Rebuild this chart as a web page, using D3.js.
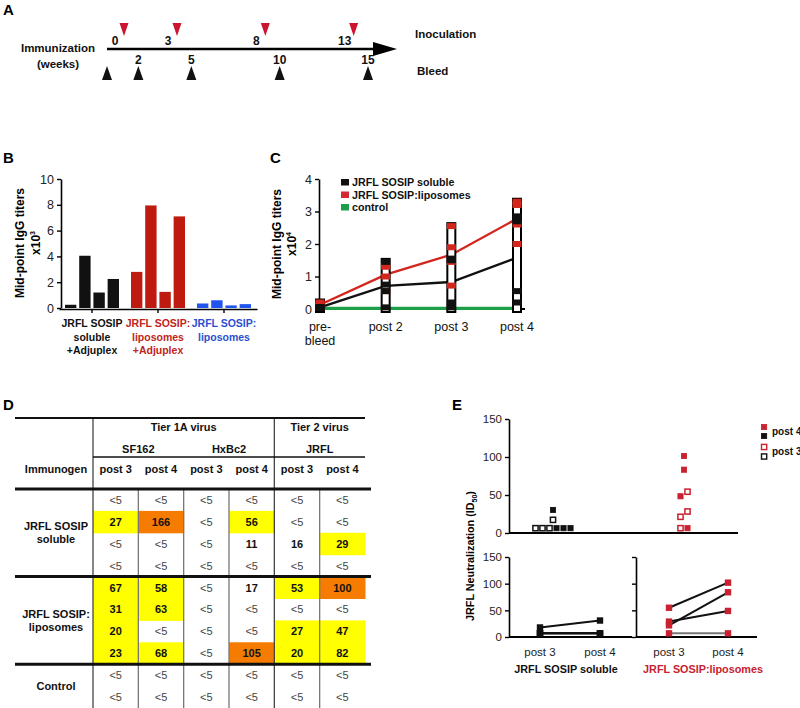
<!DOCTYPE html>
<html><head><meta charset="utf-8">
<script src="https://cdn.jsdelivr.net/npm/d3@7"></script>
<style>
body{margin:0;background:#fff;}
svg text{font-family:"Liberation Sans",Arial,Helvetica,sans-serif;}
</style></head>
<body><svg id="fig" width="800" height="708"></svg>
<script>
// ---------------- DATA ----------------
// Panel A
const inoculationWeeks = [0, 3, 8, 13];
const inoculationLabels = ["0", "3", "8", "13"];
const bleedWeeks = [0, 2, 5, 10, 15];
const bleedLabels = ["", "2", "5", "10", "15"];

// Panel B
const groupsB = ["solAdj", "lipoAdj", "lipo"];
const groupLabelsB = [["JRFL SOSIP", "soluble", "+Adjuplex"], ["JRFL SOSIP:", "liposomes", "+Adjuplex"], ["JRFL SOSIP:", "liposomes"]];
const titersSolubleAdjuplex = [0.25, 4.05, 1.2, 2.25];
const titersLiposomesAdjuplex = [2.8, 7.95, 1.25, 7.1];
const titersLiposomes = [0.35, 0.6, 0.2, 0.3];
const ticksB = [0, 2, 4, 6, 8, 10];

// Panel C
const timepointsC = ["pre-bleed", "post 2", "post 3", "post 4"];
const timeLabelsC = [["pre-", "bleed"], ["post 2"], ["post 3"], ["post 4"]];
const meanSoluble = [0.05, 0.71, 0.83, 1.58];
const meanLiposomes = [0.13, 1.06, 1.67, 2.78];
const meanControl = [0.02, 0.02, 0.02, 0.02];
const indivSoluble = [[0.05, 0.04, 0.03, 0.06], [1.45, 0.75, 0.55, 0.05], [1.55, 1.5, 0.2, 0.05], [2.85, 2.7, 0.55, 0.2]];
const indivLiposomes = [[0.2, 0.15, 0.1, 0.05], [1.35, 1.3, 1.0, 0.55], [2.55, 1.9, 1.45, 0.72], [3.3, 3.2, 2.6, 2.0]];
const legendC = ["JRFL SOSIP soluble", "JRFL SOSIP:liposomes", "control"];
const ticksC = [0, 1, 2, 3, 4];

// Panel D
const tierHeaders = ["Tier 1A virus", "Tier 2 virus"];
const virusHeaders = ["SF162", "HxBc2", "JRFL"];
const timeHeaders = ["post 3", "post 4", "post 3", "post 4", "post 3", "post 4"];
const groupNamesD = [["JRFL SOSIP", "soluble"], ["JRFL SOSIP:", "liposomes"], ["Control"]];
const rowsSoluble = [
  ["<5", "<5", "<5", "<5", "<5", "<5"],
  ["27", "166", "<5", "56", "<5", "<5"],
  ["<5", "<5", "<5", "11", "16", "29"],
  ["<5", "<5", "<5", "<5", "<5", "<5"]];
const rowsLiposomes = [
  ["67", "58", "<5", "17", "53", "100"],
  ["31", "63", "<5", "<5", "<5", "<5"],
  ["20", "<5", "<5", "<5", "27", "47"],
  ["23", "68", "<5", "105", "20", "82"]];
const rowsControl = [
  ["<5", "<5", "<5", "<5", "<5", "<5"],
  ["<5", "<5", "<5", "<5", "<5", "<5"]];

// Panel E  (<5 plotted at 5)
const solublePost3 = [5, 5, 16, 5];
const solublePost4 = [5, 5, 29, 5];
const liposomesPost3 = [53, 5, 27, 20];
const liposomesPost4 = [100, 5, 47, 82];
const ticksE = [0, 50, 100, 150];
const timesE = ["post 3", "post 4"];

// ---------------- STYLE ----------------
const BLACK = "#111", REDBAR = "#be1a10", BLUE = "#2254ee", REDLINE = "#d3261c",
      GREEN = "#1d9f4a", REDE = "#c9212f", YELLOW = "#ffff00", ORANGE = "#f57c00";
const FONT = '"Liberation Sans",Arial,Helvetica,sans-serif';
const fmtInt = d3.format("d");

const svg = d3.select("#fig");
svg.append("rect").attr("width", 800).attr("height", 708).attr("fill", "#fff");

function styleAxis(g, fs) {
  g.attr("font-family", FONT).attr("font-size", fs);
  g.selectAll("path.domain").attr("stroke", "#000").attr("stroke-width", 1.6);
  g.selectAll(".tick line").attr("stroke", "#000").attr("stroke-width", 1.4);
  g.selectAll(".tick text").attr("fill", "#222");
}
function panelLabel(t, x, y) {
  svg.append("text").attr("x", x).attr("y", y).attr("font-size", 15).attr("font-weight", "bold").text(t);
}
function txt(x, y, s, opts = {}) {
  return svg.append("text").attr("x", x).attr("y", y).attr("text-anchor", opts.anchor || "middle")
    .attr("font-size", opts.size || 11).attr("font-weight", opts.bold ? "bold" : "normal")
    .attr("fill", opts.fill || "#111").text(s);
}

// ---------------- PANEL A ----------------
panelLabel("A", 3, 15);
const xA = d3.scaleLinear().domain([0, 15]).range([103, 368]);
const lineY = 49;
svg.append("line").attr("x1", 107).attr("x2", xA(15) + 6).attr("y1", lineY).attr("y2", lineY)
  .attr("stroke", "#000").attr("stroke-width", 2.6);
svg.append("path").attr("d", `M${xA(15) + 5},${lineY - 7}L${xA(15) + 29},${lineY}L${xA(15) + 5},${lineY + 7}Z`).attr("fill", "#000");
txt(58, 52, "Immunization", { bold: true, size: 11.5 });
txt(58, 68, "(weeks)", { bold: true, size: 11.5 });
txt(415, 38, "Inoculation", { bold: true, size: 11.5, anchor: "start" });
txt(417, 75, "Bleed", { bold: true, size: 11.5, anchor: "start" });
inoculationWeeks.forEach((w, i) => {
  const x = xA(w) + 21;
  svg.append("path").attr("d", `M${x - 4.5},23L${x + 4.5},23L${x},36Z`).attr("fill", "#cc1430");
  txt(xA(w) + 12, 45, inoculationLabels[i], { bold: true, size: 12 });
});
bleedWeeks.forEach((w, i) => {
  const x = xA(w) + (w === 0 ? 4 : 0);
  svg.append("path").attr("d", `M${x - 5},80L${x + 5},80L${x},66Z`).attr("fill", "#111");
  if (bleedLabels[i]) txt(x, 64, bleedLabels[i], { bold: true, size: 12 });
});

// ---------------- PANEL B ----------------
panelLabel("B", 3, 163);
const yB = d3.scaleLinear().domain([0, 10]).range([308, 179]);
const xB = d3.scaleBand().domain(groupsB).range([59, 257]);
const xBinner = d3.scaleBand().domain([0, 1, 2, 3]).range([6, 60]).paddingInner(0.2);
const seriesB = [titersSolubleAdjuplex, titersLiposomesAdjuplex, titersLiposomes];
const colorsB = [BLACK, REDBAR, BLUE];
groupsB.forEach((g, gi) => {
  svg.append("g").selectAll("rect").data(seriesB[gi]).join("rect")
    .attr("x", (d, i) => xB(g) + xBinner(i)).attr("width", xBinner.bandwidth())
    .attr("y", d => yB(d)).attr("height", d => yB(0) - yB(d)).attr("fill", colorsB[gi]);
});
const gyB = svg.append("g").attr("transform", "translate(61,0)")
  .call(d3.axisLeft(yB).tickValues(ticksB).tickFormat(fmtInt).tickSize(4).tickSizeOuter(0).tickPadding(3));
styleAxis(gyB, 12.5);
const gxB = svg.append("g").attr("transform", `translate(0,${yB(0) + 1})`)
  .call(d3.axisBottom(xB).tickSize(4).tickSizeOuter(0).tickFormat(""));
styleAxis(gxB, 11);
groupLabelsB.forEach((lines, gi) => {
  lines.forEach((l, li) => txt(xB(groupsB[gi]) + xB.bandwidth() / 2, 327 + li * 13.5, l,
    { bold: true, size: 10.5, fill: ["#111", "#c0241a", "#2a4fd0"][gi] }));
});
svg.append("text").attr("transform", "translate(24,243) rotate(-90)").attr("text-anchor", "middle")
  .attr("font-size", 12).attr("font-weight", "bold").text("Mid-point IgG titers");
svg.append("text").attr("transform", "translate(40,243) rotate(-90)").attr("text-anchor", "middle")
  .attr("font-size", 12).attr("font-weight", "bold")
  .call(t => { t.append("tspan").text("x10"); t.append("tspan").attr("font-size", 7).attr("dy", -5).text("3"); });

// ---------------- PANEL C ----------------
panelLabel("C", 270, 163);
const yC = d3.scaleLinear().domain([0, 4]).range([309, 179]);
const xC = d3.scalePoint().domain(timepointsC).range([320, 517]);
svg.append("line").attr("x1", 319).attr("x2", 525).attr("y1", yC(0)).attr("y2", yC(0)).attr("stroke", "#000").attr("stroke-width", 2);
const gyC = svg.append("g").attr("transform", "translate(319,0)")
  .call(d3.axisLeft(yC).tickValues(ticksC).tickFormat(fmtInt).tickSize(4).tickSizeOuter(0).tickPadding(3));
styleAxis(gyC, 12.5);
const lineC = d3.line().x((d, i) => xC(timepointsC[i])).y(d => yC(d));
svg.append("path").attr("d", lineC(meanControl)).attr("fill", "none").attr("stroke", GREEN).attr("stroke-width", 3.2);
svg.append("path").attr("d", lineC(meanSoluble)).attr("fill", "none").attr("stroke", BLACK).attr("stroke-width", 2.4);
svg.append("path").attr("d", lineC(meanLiposomes)).attr("fill", "none").attr("stroke", REDLINE).attr("stroke-width", 2.4);
timepointsC.forEach((tp, i) => {
  const x = xC(tp);
  const mx = d3.max(indivSoluble[i].concat(indivLiposomes[i]));
  svg.append("rect").attr("x", x - 4).attr("y", yC(mx) - 3).attr("width", 8).attr("height", yC(0) - yC(mx) + 6)
    .attr("fill", "#fff").attr("stroke", "#000").attr("stroke-width", 2);
  svg.append("g").selectAll("rect").data(indivLiposomes[i]).join("rect")
    .attr("x", x - 4.5).attr("y", d => yC(d) - 3).attr("width", 9).attr("height", 6).attr("fill", REDLINE);
  svg.append("g").selectAll("rect").data(indivSoluble[i]).join("rect")
    .attr("x", x - 4.5).attr("y", d => yC(d) - 3).attr("width", 9).attr("height", 6).attr("fill", BLACK);
  timeLabelsC[i].forEach((l, li) => txt(x, 331 + li * 14, l, { size: 12.5 }));
});
[BLACK, "#d42a36", GREEN].forEach((c, i) => {
  svg.append("rect").attr("x", 341).attr("y", 179 + i * 12.5).attr("width", 8).attr("height", 6.5).attr("fill", c);
  txt(352, 186 + i * 12.5, legendC[i], { bold: true, size: 10.7, anchor: "start" });
});
svg.append("text").attr("transform", "translate(281,244) rotate(-90)").attr("text-anchor", "middle")
  .attr("font-size", 12).attr("font-weight", "bold").text("Mid-point IgG titers");
svg.append("text").attr("transform", "translate(296,244) rotate(-90)").attr("text-anchor", "middle")
  .attr("font-size", 12).attr("font-weight", "bold")
  .call(t => { t.append("tspan").text("x10"); t.append("tspan").attr("font-size", 7).attr("dy", -5).text("4"); });

// ---------------- PANEL D ----------------
panelLabel("D", 3, 410);
const rowsAll = rowsSoluble.concat(rowsLiposomes, rowsControl);
const xD = d3.scaleBand().domain(d3.range(6)).range([93, 365]);
const yD = d3.scaleBand().domain(d3.range(rowsAll.length)).range([489, 708]);
function cellFill(v) {
  if (v.startsWith("<")) return null;
  const n = +v;
  return n >= 100 ? ORANGE : (n >= 20 ? YELLOW : null);
}
rowsAll.forEach((row, ri) => row.forEach((v, ci) => {
  const f = cellFill(v);
  if (f) svg.append("rect").attr("x", xD(ci)).attr("y", yD(ri)).attr("width", xD.bandwidth() + 0.5)
    .attr("height", yD.bandwidth() + 0.5).attr("fill", f);
}));
d3.range(6).forEach(ci => {
  svg.append("line").attr("x1", xD(ci)).attr("x2", xD(ci)).attr("y1", 489).attr("y2", 708)
    .attr("stroke", (ci === 0 || ci === 4) ? "#444" : "#777").attr("stroke-width", 1.3);
});
[0, 4].forEach(ci => svg.append("line").attr("x1", xD(ci)).attr("x2", xD(ci)).attr("y1", 418).attr("y2", 489)
  .attr("stroke", "#444").attr("stroke-width", 1.3));
svg.append("line").attr("x1", 15).attr("x2", 365).attr("y1", 418).attr("y2", 418).attr("stroke", "#111").attr("stroke-width", 2);
svg.append("line").attr("x1", 93).attr("x2", 365).attr("y1", 457).attr("y2", 457).attr("stroke", "#111").attr("stroke-width", 1.6);
[489, yD(4), yD(8)].forEach(y => svg.append("line").attr("x1", 15).attr("x2", 371).attr("y1", y).attr("y2", y)
  .attr("stroke", "#111").attr("stroke-width", 3));
txt((xD(0) + xD(4)) / 2, 431, tierHeaders[0], { bold: true, size: 11 });
txt((xD(4) + 365) / 2, 431, tierHeaders[1], { bold: true, size: 11 });
virusHeaders.forEach((v, k) => txt(xD(2 * k) + xD.bandwidth(), 453, v, { bold: true, size: 11 }));
txt(56, 473, "Immunogen", { bold: true, size: 11 });
timeHeaders.forEach((t, ci) => txt(xD(ci) + xD.bandwidth() / 2, 473, t, { bold: true, size: 11 }));
rowsAll.forEach((row, ri) => row.forEach((v, ci) => {
  const lt = v.startsWith("<");
  txt(xD(ci) + xD.bandwidth() / 2, yD(ri) + yD.bandwidth() / 2 + 4, v, { bold: !lt, size: 11, fill: lt ? "#444" : "#111" });
}));
const groupRowSpans = [[0, 4], [4, 8], [8, 10]];
groupNamesD.forEach((lines, gi) => {
  const cy = (yD(groupRowSpans[gi][0]) + yD(groupRowSpans[gi][1] - 1) + yD.bandwidth()) / 2;
  lines.forEach((l, li) => txt(56, cy + 4 + (li - (lines.length - 1) / 2) * 13, l, { bold: true, size: 11 }));
});

// ---------------- PANEL E ----------------
panelLabel("E", 452, 410);
function swarmOffsets(values, y, size) {
  const idx = values.map((v, i) => i).sort((a, b) => values[a] - values[b]);
  const bins = [];
  idx.forEach(i => {
    const last = bins[bins.length - 1];
    if (last && Math.abs(y(values[i]) - y(values[last[0]])) < size) last.push(i); else bins.push([i]);
  });
  const off = new Array(values.length);
  bins.forEach(b => b.forEach((i, k) => off[i] = (k - (b.length - 1) / 2) * size));
  return off;
}
const yE1 = d3.scaleLinear().domain([0, 150]).range([533, 419]);
const xE1 = d3.scalePoint().domain(["soluble", "liposomes"]).range([553, 684]);
const gyE1 = svg.append("g").attr("transform", "translate(509,0)")
  .call(d3.axisLeft(yE1).tickValues(ticksE).tickSize(4).tickSizeOuter(0).tickPadding(3));
styleAxis(gyE1, 11.5);
svg.append("line").attr("x1", 509).attr("x2", 738).attr("y1", yE1(0)).attr("y2", yE1(0)).attr("stroke", "#000").attr("stroke-width", 1.8);
[["soluble", solublePost3, solublePost4, BLACK], ["liposomes", liposomesPost3, liposomesPost4, REDE]].forEach(([g, p3, p4, col]) => {
  const vals = p3.concat(p4);
  const off = swarmOffsets(vals, yE1, 7);
  vals.forEach((v, i) => {
    const hollow = i < p3.length;
    svg.append("rect").attr("x", xE1(g) + off[i] - 2.6).attr("y", yE1(v) - 2.6 - 1).attr("width", 5.2).attr("height", 5.2)
      .attr("fill", hollow ? "#fff" : col).attr("stroke", col).attr("stroke-width", hollow ? 1.5 : 0.8);
  });
});
[[427, REDE, false], [436, BLACK, false], [447, REDE, true], [456.5, BLACK, true]].forEach(([y, c, h]) => {
  svg.append("rect").attr("x", 761.5).attr("y", y - 2.6).attr("width", 5.2).attr("height", 5.2)
    .attr("fill", h ? "#fff" : c).attr("stroke", c).attr("stroke-width", h ? 1.4 : 0.8);
});
txt(772, 435, "post 4", { bold: true, size: 10, anchor: "start" });
txt(772, 455, "post 3", { bold: true, size: 10, anchor: "start" });

const yE2 = d3.scaleLinear().domain([0, 150]).range([637, 557]);
const xE2L = d3.scalePoint().domain(timesE).range([540, 600]);
const xE2R = d3.scalePoint().domain(timesE).range([669, 728]);
const gyE2 = svg.append("g").attr("transform", "translate(509,0)")
  .call(d3.axisLeft(yE2).tickValues(ticksE).tickSize(4).tickSizeOuter(0).tickPadding(3));
styleAxis(gyE2, 11.5);
const gyE3 = svg.append("g").attr("transform", "translate(636,0)")
  .call(d3.axisLeft(yE2).tickValues(ticksE).tickSize(4).tickSizeOuter(0).tickFormat(""));
styleAxis(gyE3, 11.5);
svg.append("line").attr("x1", 509).attr("x2", 632).attr("y1", yE2(0)).attr("y2", yE2(0)).attr("stroke", "#000").attr("stroke-width", 1.8);
svg.append("line").attr("x1", 636).attr("x2", 757).attr("y1", yE2(0)).attr("y2", yE2(0)).attr("stroke", "#000").attr("stroke-width", 1.8);
[[xE2L, solublePost3, solublePost4, BLACK], [xE2R, liposomesPost3, liposomesPost4, REDE]].forEach(([xs, p3, p4, col]) => {
  p3.forEach((v, i) => {
    const same = v === p4[i];
    svg.append("line").attr("x1", xs("post 3")).attr("x2", xs("post 4")).attr("y1", yE2(v) - 1).attr("y2", yE2(p4[i]) - 1)
      .attr("stroke", same && col === REDE ? "#777" : "#111").attr("stroke-width", 2);
  });
  [p3, p4].forEach((arr, k) => arr.forEach(v => {
    svg.append("rect").attr("x", xs(timesE[k]) - 3.2).attr("y", yE2(v) - 4.2).attr("width", 6.4).attr("height", 6.4).attr("fill", col);
  }));
  timesE.forEach(t => txt(xs(t), 656, t, { size: 11.5, fill: "#222" }));
});
txt(566, 673, "JRFL SOSIP soluble", { bold: true, size: 10.8 });
txt(703, 673, "JRFL SOSIP:liposomes", { bold: true, size: 10.8, fill: REDE });
svg.append("text").attr("transform", "translate(474,556) rotate(-90)").attr("text-anchor", "middle")
  .attr("font-size", 10.8).attr("font-weight", "bold")
  .call(t => {
    t.append("tspan").text("JRFL Neutralization (ID");
    t.append("tspan").attr("font-size", 7).attr("dy", 3).text("50");
    t.append("tspan").attr("dy", -3).text(")");
  });
</script></body></html>
